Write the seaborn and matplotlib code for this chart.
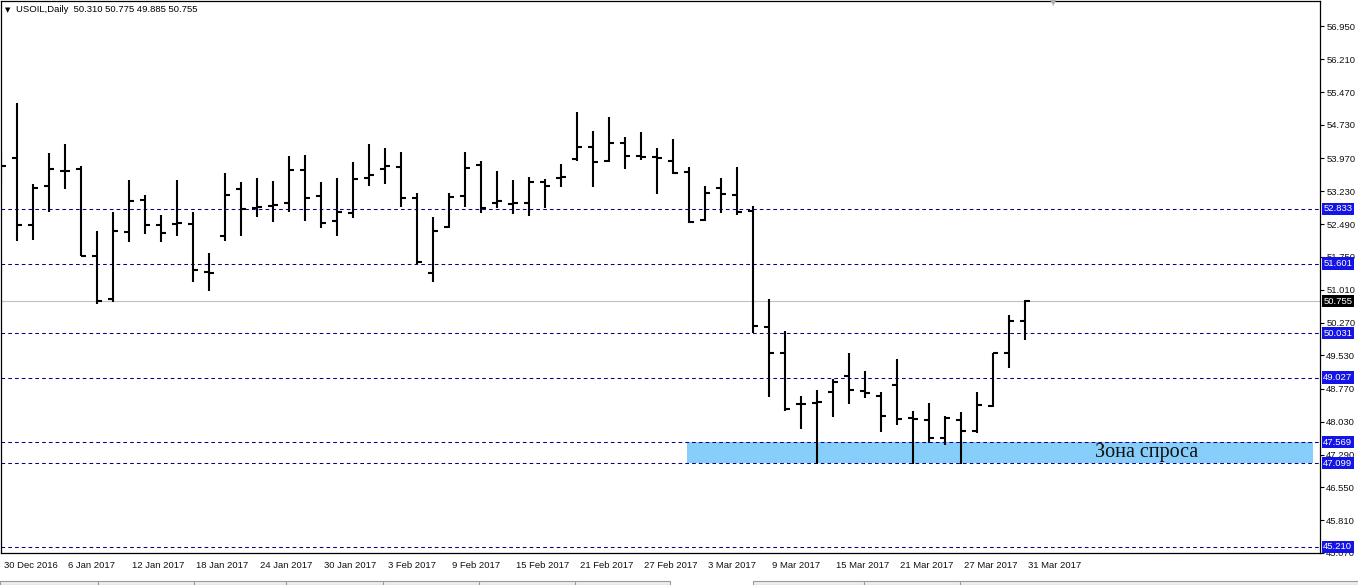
import numpy as np
import pandas as pd
import seaborn as sns
import matplotlib
matplotlib.use("Agg")
import matplotlib.pyplot as plt
import matplotlib.transforms as mtransforms
from matplotlib.patches import Rectangle

# ---------------- data ----------------
opens = [53.65, 53.99, 52.48, 53.34, 53.69, 53.73, 51.78, 50.80, 52.32, 53.04,
         52.46, 52.50, 52.50, 51.40, 52.23, 53.28, 52.85, 52.90, 52.96, 53.71,
         53.12, 52.56, 52.75, 53.54, 53.74, 53.77, 53.09, 51.38, 52.42, 53.13,
         53.83, 52.97, 52.95, 52.97, 53.43, 53.54, 53.96, 54.24, 53.92, 54.31,
         54.03, 54.00, 53.92, 53.67, 52.58, 53.30, 53.15, 52.79, 50.17, 49.58,
         48.44, 48.45, 48.71, 49.07, 48.73, 48.62, 48.85, 48.11, 48.08, 47.66,
         48.08, 47.83, 48.39, 49.58, 50.310]
highs = [54.09, 55.23, 53.39, 54.10, 54.30, 53.79, 52.34, 52.76, 53.49, 53.14,
         52.69, 53.49, 52.76, 51.83, 53.64, 53.43, 53.52, 53.46, 54.03, 54.05,
         53.43, 53.52, 53.90, 54.30, 54.20, 54.11, 53.20, 52.65, 53.19, 54.11,
         53.92, 53.69, 53.49, 53.56, 53.50, 53.85, 55.01, 54.58, 54.90, 54.46,
         54.56, 54.20, 54.40, 53.77, 53.36, 53.52, 53.77, 52.90, 50.80, 50.07,
         48.62, 48.74, 49.00, 49.58, 49.17, 48.70, 49.44, 48.28, 48.45, 48.17,
         48.25, 48.70, 49.59, 50.44, 50.775]
lows = [53.37, 52.10, 52.12, 52.77, 53.28, 51.77, 50.68, 50.73, 52.08, 52.26,
        52.08, 52.22, 51.18, 50.99, 52.10, 52.22, 52.64, 52.53, 52.76, 52.55,
        52.40, 52.22, 52.62, 53.34, 53.39, 52.88, 51.59, 51.19, 52.41, 52.87,
        52.74, 52.85, 52.71, 52.68, 52.86, 53.32, 53.92, 53.32, 53.90, 53.73,
        53.94, 53.16, 53.63, 52.51, 52.56, 52.74, 52.70, 50.03, 48.59, 48.28,
        47.87, 47.08, 48.13, 48.43, 48.56, 47.80, 47.96, 47.08, 47.55, 47.51,
        47.08, 47.77, 48.36, 49.25, 49.885]
closes = [53.80, 52.48, 53.31, 53.74, 53.68, 51.78, 50.76, 52.34, 53.00, 52.48,
          52.29, 52.51, 51.46, 51.39, 53.15, 52.83, 52.88, 52.92, 53.71, 53.09,
          52.52, 52.77, 53.51, 53.60, 53.80, 53.09, 51.64, 52.34, 53.11, 53.75,
          52.85, 53.00, 52.96, 53.43, 53.36, 53.55, 54.22, 53.89, 54.33, 54.03,
          54.01, 53.99, 53.64, 52.53, 53.20, 53.17, 52.77, 50.18, 49.59, 48.32,
          48.43, 48.47, 48.93, 48.74, 48.69, 48.17, 48.10, 48.10, 47.66, 48.11,
          47.83, 48.41, 49.58, 50.31, 50.755]

date_labels = ["30 Dec 2016", "6 Jan 2017", "12 Jan 2017", "18 Jan 2017",
               "24 Jan 2017", "30 Jan 2017", "3 Feb 2017", "9 Feb 2017",
               "15 Feb 2017", "21 Feb 2017", "27 Feb 2017", "3 Mar 2017",
               "9 Mar 2017", "15 Mar 2017", "21 Mar 2017", "27 Mar 2017",
               "31 Mar 2017"]
date_label_bars = [0, 4, 8, 12, 16, 20, 24, 28, 32, 36, 40, 44, 48, 52, 56, 60, 64]

price_ticks = [56.950, 56.210, 55.470, 54.730, 53.970, 53.230, 52.490, 51.750,
               51.010, 50.270, 49.530, 48.770, 48.030, 47.290, 46.550, 45.810,
               45.070]
levels = [52.833, 51.601, 50.031, 49.027, 47.569, 47.099, 45.210]
last_price = 50.755
zone_low, zone_high = 47.099, 47.569
zone_text = "Зона спроса"
title = "USOIL,Daily  50.310 50.775 49.885 50.755"

df = pd.DataFrame({"open": opens, "high": highs, "low": lows, "close": closes})
df["bar"] = np.arange(len(df))

# ---------------- style ----------------
sns.set_theme(style="white")
plt.rcParams["font.family"] = ["Liberation Sans", "DejaVu Sans"]

W, H = 1358, 585
fig = plt.figure(figsize=(W / 100, H / 100), dpi=100)
fig.patch.set_facecolor("white")
ax = fig.add_axes([0.5 / W, (H - 553) / H, (1320 - 0.5) / W, 552 / H])
ax.set_facecolor("white")

ax.set_xlim(-0.03, 82.44)
ax.set_ylim(45.077, 57.523)

# levels (dashed navy)
for lv in levels:
    ax.axhline(lv, color="#000080", lw=0.75, ls=(0, (3.5, 3.0)), zorder=1)
# last price line
ax.axhline(last_price, color="#C0C0C0", lw=0.8, zorder=1)

# demand zone
ax.add_patch(Rectangle((42.9, zone_low), 82.0 - 42.9, zone_high - zone_low,
                       facecolor="#87CEFA", edgecolor="none", zorder=0.8))
ax.text(71.6, (zone_low + zone_high) / 2 + 0.01, zone_text,
        family=["Liberation Serif", "DejaVu Serif"], fontsize=14.5,
        color="#111111", ha="center", va="center", zorder=2)

# OHLC bars
tick_w = 0.3
ax.vlines(df["bar"], df["low"], df["high"], color="black", lw=1.5, zorder=3,
          capstyle="butt")
ax.hlines(df["open"], df["bar"] - tick_w, df["bar"], color="black", lw=1.5,
          zorder=3, capstyle="butt")
ax.hlines(df["close"], df["bar"], df["bar"] + tick_w, color="black", lw=1.5,
          zorder=3, capstyle="butt")

# spines
for s in ax.spines.values():
    s.set_color("black")
    s.set_linewidth(0.9)
    s.set_visible(True)

# y axis on right
ax.yaxis.tick_right()
ax.set_yticks(price_ticks)
ax.set_yticklabels([f"{v:.3f}" for v in price_ticks])
ax.tick_params(axis="y", which="both", direction="out", length=3, width=0.8,
               color="black", labelsize=6.8, pad=1.5, labelcolor="#111111",
               left=False, right=True)

# x axis
ax.set_xticks(date_label_bars)
ax.set_xticklabels(date_labels)
ax.tick_params(axis="x", direction="out", length=3, width=0.8, color="black",
               labelsize=6.8, pad=3, labelcolor="#111111")
offset = mtransforms.ScaledTranslation(3 / 100, 0, fig.dpi_scale_trans)
for lab in ax.get_xticklabels():
    lab.set_ha("left")
    lab.set_transform(lab.get_transform() + offset)
ax.grid(False)

# level labels on the right axis
trans = mtransforms.blended_transform_factory(ax.transAxes, ax.transData)
for lv in levels:
    ax.text(1.0025, lv, f"{lv:.3f}", transform=trans, ha="left", va="center",
            fontsize=6.8, color="white", clip_on=False, zorder=5,
            bbox=dict(boxstyle="square,pad=0.18", facecolor="#1414E6",
                      edgecolor="none"))
ax.text(1.0025, last_price, f"{last_price:.3f}", transform=trans, ha="left",
        va="center", fontsize=6.8, color="white", clip_on=False, zorder=5,
        bbox=dict(boxstyle="square,pad=0.18", facecolor="black",
                  edgecolor="none"))

# header
fig.text(5 / W, 1 - 10 / H, "▼", fontsize=5, color="black", ha="left",
         va="center", family=["DejaVu Sans"])
fig.text(16 / W, 1 - 10 / H, title, fontsize=6.8, color="black", ha="left",
         va="center")
fig.text(1053 / W, 1 - 3 / H, "▼", fontsize=6, color="#B0B0B0", ha="center",
         va="center", family=["DejaVu Sans"])

# bottom tab strip
for x0, x1 in [(0, 670), (753, 1358)]:
    fig.patches.append(Rectangle((x0 / W, 0), (x1 - x0) / W, 4 / H,
                                 transform=fig.transFigure, facecolor="#EDEDED",
                                 edgecolor="#9A9A9A", lw=0.8))
for xs in [98, 194, 286, 383, 479, 575, 864, 960]:
    fig.lines.append(plt.Line2D([xs / W, xs / W], [0, 4 / H],
                                transform=fig.transFigure, color="#9A9A9A",
                                lw=0.8))

fig.savefig("out.png", dpi=100)
